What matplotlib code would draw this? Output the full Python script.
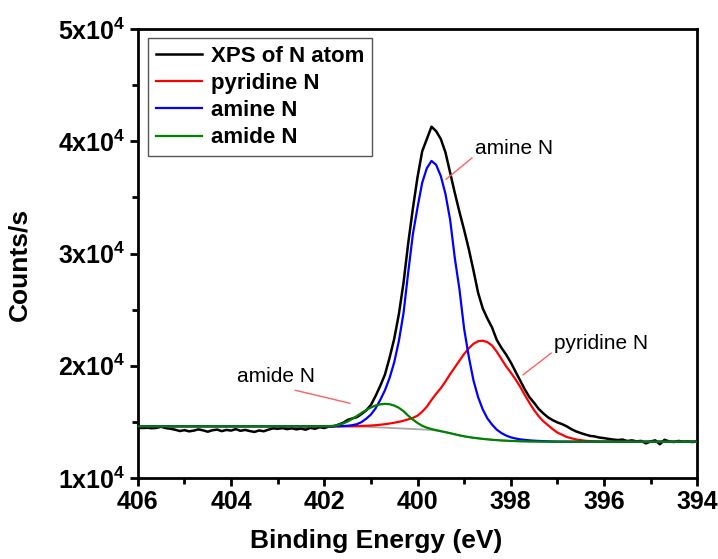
import matplotlib
matplotlib.use('Agg')
import matplotlib.pyplot as plt
from matplotlib.ticker import MultipleLocator, FuncFormatter

plt.rcParams['font.family'] = ['Liberation Sans', 'DejaVu Sans']
plt.rcParams['mathtext.fontset'] = 'custom'
plt.rcParams['mathtext.rm'] = 'Liberation Sans'
plt.rcParams['mathtext.bf'] = 'Liberation Sans:bold'

# measured spectrum (binding energy, counts/s)
raw_e = [406.0, 405.9, 405.8, 405.7, 405.6, 405.5, 405.4, 405.3, 405.2, 405.1,
         405.0, 404.9, 404.8, 404.7, 404.6, 404.5, 404.4, 404.3, 404.2, 404.1,
         404.0, 403.9, 403.8, 403.7, 403.6, 403.5, 403.4, 403.3, 403.2, 403.1,
         403.0, 402.9, 402.8, 402.7, 402.6, 402.5, 402.4, 402.3, 402.2, 402.1,
         402.0, 401.9, 401.8, 401.7, 401.6, 401.5, 401.4, 401.3, 401.2, 401.1,
         401.0, 400.9, 400.8, 400.7, 400.6, 400.5, 400.4, 400.3, 400.2, 400.1,
         400.0, 399.9, 399.8, 399.7, 399.6, 399.5, 399.4, 399.3, 399.2, 399.1,
         399.0, 398.9, 398.8, 398.7, 398.6, 398.5, 398.4, 398.3, 398.2, 398.1,
         398.0, 397.9, 397.8, 397.7, 397.6, 397.5, 397.4, 397.3, 397.2, 397.1,
         397.0, 396.9, 396.8, 396.7, 396.6, 396.5, 396.4, 396.3, 396.2, 396.1,
         396.0, 395.9, 395.8, 395.7, 395.6, 395.5, 395.4, 395.3, 395.2, 395.1,
         395.0, 394.9, 394.8, 394.7, 394.6, 394.5, 394.4, 394.3, 394.2, 394.1,
         394.0]
raw_counts = [14480, 14450, 14470, 14430, 14460, 14560, 14440, 14380, 14300, 14180,
              14260, 14150, 14220, 14330, 14240, 14120, 14250, 14310, 14170, 14280,
              14220, 14350, 14200, 14280, 14180, 14100, 14230, 14160, 14300, 14420,
              14380, 14440, 14350, 14420, 14330, 14400, 14300, 14460, 14380, 14520,
              14450, 14580, 14600, 14750, 14900, 15170, 15300, 15420, 15700, 16020,
              16500, 17300, 18200, 19200, 20700, 22400, 24600, 27400, 30900, 34000,
              36800, 39100, 40200, 41300, 40900, 40200, 39000, 37200, 35400, 33700,
              32100, 30400, 28500, 26500, 25100, 24200, 23400, 22300, 21600, 21000,
              20300, 19500, 18700, 17900, 17200, 16700, 16150, 15750, 15400, 15150,
              14950, 14800, 14600, 14350, 14150, 14000, 13870, 13750, 13700, 13600,
              13550, 13480, 13420, 13380, 13420, 13290, 13350, 13260, 13300, 13080,
              13250, 13350, 13000, 13400, 13250, 13200, 13300, 13230, 13250, 13200,
              13250]

# fitted components (component + background)
fit_e = [406.0, 404.0, 402.0,
         401.9, 401.8, 401.7, 401.6, 401.5, 401.4, 401.3, 401.2, 401.1, 401.0,
         400.9, 400.8, 400.7, 400.6, 400.5, 400.4, 400.3, 400.2, 400.1, 400.0,
         399.9, 399.8, 399.7, 399.6, 399.5, 399.4, 399.3, 399.2, 399.1, 399.0,
         398.9, 398.8, 398.7, 398.6, 398.5, 398.4, 398.3, 398.2, 398.1, 398.0,
         397.9, 397.8, 397.7, 397.6, 397.5, 397.4, 397.3, 397.2, 397.1, 397.0,
         396.8, 396.6, 396.4, 396.2, 396.0, 395.0, 394.0]
background = [14600, 14600, 14600,
              14600, 14600, 14600, 14600, 14600, 14590, 14580, 14570, 14555, 14540,
              14520, 14500, 14480, 14460, 14440, 14420, 14400, 14380, 14360, 14340,
              14320, 14300, 14270, 14220, 14150, 14070, 13980, 13880, 13790, 13710,
              13640, 13580, 13530, 13480, 13440, 13400, 13370, 13340, 13320, 13300,
              13285, 13270, 13260, 13250, 13245, 13240, 13235, 13232, 13230, 13230,
              13230, 13230, 13230, 13230, 13230, 13230, 13230]
pyridine = [14600, 14600, 14600,
            14600, 14600, 14600, 14600, 14605, 14610, 14620, 14635, 14650, 14670,
            14700, 14740, 14790, 14850, 14920, 15000, 15100, 15220, 15350, 15550,
            15900, 16350, 16950, 17500, 18000, 18600, 19250, 19850, 20450, 21050,
            21550, 21950, 22180, 22230, 22100, 21800, 21250, 20600, 19950, 19400,
            18800, 18150, 17400, 16700, 16050, 15500, 15050, 14700, 14350, 14050,
            13650, 13430, 13310, 13260, 13240, 13230, 13230]
amine = [14600, 14600, 14600,
         14600, 14605, 14610, 14625, 14650, 14700, 14790, 14980, 15280, 15650,
         16200, 16950, 17800, 18900, 20300, 22200, 24700, 28300, 31700, 34100,
         36300, 37600, 38250, 37900, 36900, 35300, 33000, 29600, 26800, 23300,
         20800, 18700, 17200, 16100, 15300, 14750, 14300, 14000, 13780, 13620,
         13520, 13440, 13390, 13350, 13320, 13300, 13280, 13265, 13250, 13240,
         13235, 13230, 13230, 13230, 13230, 13230, 13230]
amide = [14600, 14600, 14610,
         14620, 14650, 14720, 14850, 15030, 15260, 15520, 15800, 16050, 16280,
         16450, 16560, 16600, 16570, 16450, 16250, 15950, 15550, 15200, 14900,
         14650, 14480, 14360, 14260, 14170, 14080, 13990, 13890, 13795, 13712,
         13640, 13580, 13530, 13480, 13440, 13400, 13370, 13340, 13320, 13300,
         13285, 13270, 13260, 13250, 13245, 13240, 13235, 13232, 13230, 13230,
         13230, 13230, 13230, 13230, 13230, 13230, 13230]

fig = plt.figure(figsize=(7.18, 5.59), dpi=100)
ax = fig.add_axes([0.192, 0.145, 0.779, 0.803])

ax.plot(fit_e, background, color='#a8a8a8', lw=1.3)
ax.plot(raw_e, raw_counts, color='black', lw=1.8, label='XPS of N atom')
ax.plot(fit_e, pyridine, color='red', lw=1.6, label='pyridine N')
ax.plot(fit_e, amine, color='blue', lw=1.6, label='amine N')
ax.plot(fit_e, amide, color='green', lw=1.6, label='amide N', zorder=3)

ax.set_xlim(406, 394)
ax.set_ylim(10000, 50000)
ax.xaxis.set_major_locator(MultipleLocator(2))
ax.xaxis.set_minor_locator(MultipleLocator(1))
ax.yaxis.set_major_locator(MultipleLocator(10000))
ax.yaxis.set_minor_locator(MultipleLocator(5000))
ax.yaxis.set_major_formatter(FuncFormatter(
    lambda v, p: r'$\mathbf{%dx10^{4}}$' % round(v / 10000)))

for s in ax.spines.values():
    s.set_linewidth(2)
ax.tick_params(which='major', direction='out', length=6, width=2,
               labelsize=18, pad=3)
ax.tick_params(which='minor', direction='out', length=4, width=2)
for lbl in ax.get_xticklabels():
    lbl.set_fontweight('bold')

ax.set_xlabel('Binding Energy (eV)', fontsize=19, fontweight='bold')
ax.xaxis.set_label_coords(0.426, -0.113)
ax.set_ylabel('Counts/s', fontsize=19, fontweight='bold')
ax.yaxis.set_label_coords(-0.19, 0.475)

leg = ax.legend(loc='upper left', bbox_to_anchor=(0.018, 0.98), borderaxespad=0,
                fancybox=False, edgecolor='#555555', framealpha=1,
                handlelength=2.1, handletextpad=0.4, borderpad=0.35,
                labelspacing=0.28, prop={'weight': 'bold', 'size': 16})
leg.get_frame().set_linewidth(1)

# callouts
ax.annotate('amine N', xy=(399.39, 36611), xytext=(398.77, 39400),
            fontsize=15, va='center', ha='left',
            arrowprops=dict(arrowstyle='-', color='#ff6060', lw=1,
                            shrinkA=0, shrinkB=0, relpos=(0, 0.1)))
ax.annotate('pyridine N', xy=(397.74, 19176), xytext=(397.07, 22000),
            fontsize=15, va='center', ha='left',
            arrowprops=dict(arrowstyle='-', color='#ff6060', lw=1,
                            shrinkA=0, shrinkB=0, relpos=(0, 0.1)))
ax.annotate('amide N', xy=(401.45, 16655), xytext=(403.88, 19000),
            fontsize=15, va='center', ha='left',
            arrowprops=dict(arrowstyle='-', color='#ff6060', lw=1,
                            shrinkA=0, shrinkB=0, relpos=(0.75, -0.2)))

fig.savefig('out.png', dpi=100)
